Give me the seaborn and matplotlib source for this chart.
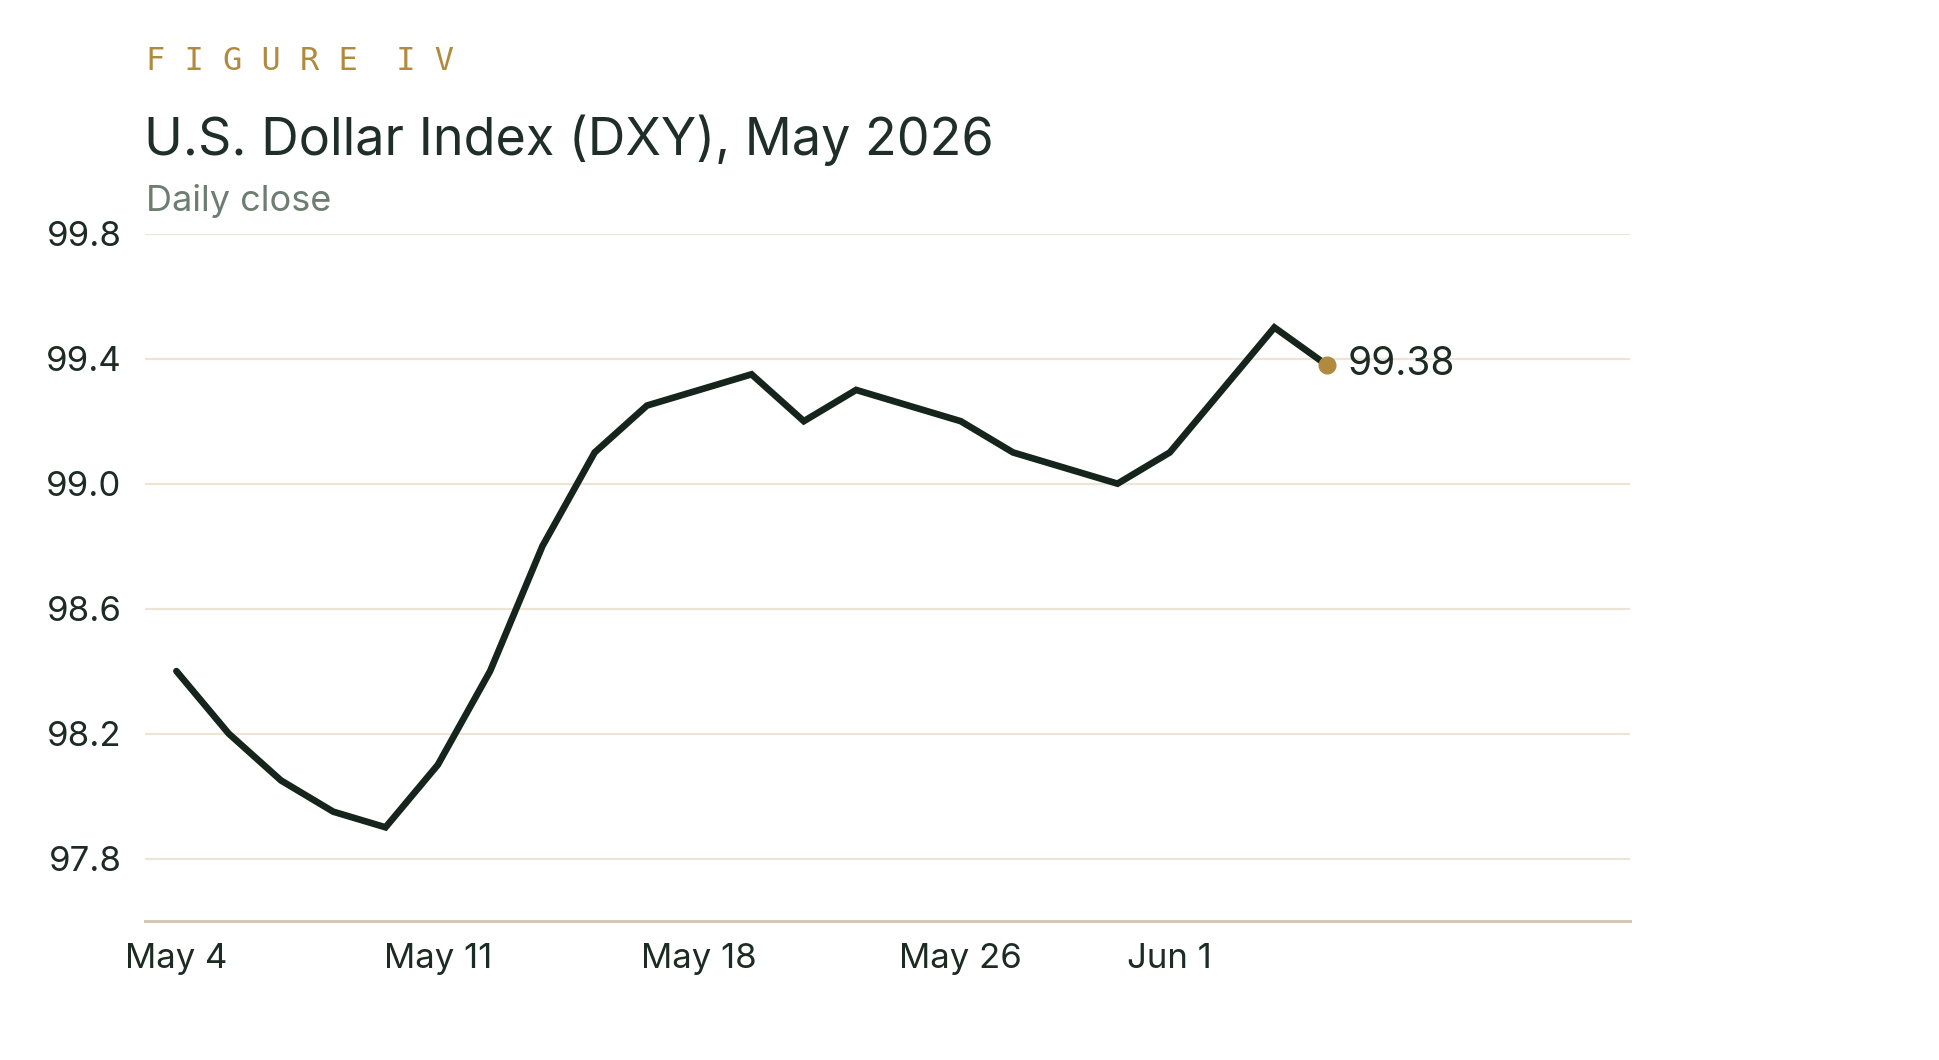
import pandas as pd
import matplotlib.pyplot as plt
import seaborn as sns

# trading days, May 4 - Jun 4 2026 (Memorial Day skipped)
dates = ["May 4", "May 5", "May 6", "May 7", "May 8",
         "May 11", "May 12", "May 13", "May 14", "May 15",
         "May 18", "May 19", "May 20", "May 21", "May 22",
         "May 26", "May 27", "May 28", "May 29",
         "Jun 1", "Jun 2", "Jun 3", "Jun 4"]
dxy_close = [98.40, 98.20, 98.05, 97.95, 97.90,
             98.10, 98.40, 98.80, 99.10, 99.25,
             99.30, 99.35, 99.20, 99.30, 99.25,
             99.20, 99.10, 99.05, 99.00,
             99.10, 99.30, 99.50, 99.38]
tick_labels = ["May 4", "May 11", "May 18", "May 26", "Jun 1"]
y_ticks = [97.8, 98.2, 98.6, 99.0, 99.4, 99.8]

INK = "#1c2b24"
GOLD = "#b08a3e"
GRID = "#ece5d6"

sns.set_theme(style="white")
plt.rcParams['font.family'] = ['Inter', 'DejaVu Sans']

df = pd.DataFrame({"date": dates, "close": dxy_close})
df["idx"] = range(len(df))

fig = plt.figure(figsize=(19.39, 10.60), dpi=100)
ax = fig.add_axes([0.0748, 0.1311, 0.7658, 0.6484])

for y in y_ticks:
    ax.axhline(y, color=GRID, lw=1.6, zorder=0)

sns.lineplot(data=df, x="idx", y="close", ax=ax, color="#15241d", lw=4.8,
             solid_joinstyle="miter", zorder=3)

last = df.iloc[-1]
ax.plot(last["idx"], last["close"], "o", color=GOLD, ms=12, zorder=4)
ax.annotate(f"{last['close']:.2f}", (last["idx"], last["close"]),
            xytext=(15, 0), textcoords="offset points", va="center",
            ha="left", fontsize=28, color=INK)

ax.set_xlim(-0.6, 27.8)
ax.set_ylim(97.6, 99.8)
ax.set_yticks(y_ticks)
ax.set_yticklabels([f"{v:.1f}" for v in y_ticks])
tick_pos = [dates.index(t) for t in tick_labels]
ax.set_xticks(tick_pos)
ax.set_xticklabels(tick_labels)
ax.tick_params(axis="both", length=0, labelsize=25, labelcolor=INK)
ax.tick_params(axis="y", pad=17)
ax.tick_params(axis="x", pad=16)
ax.set_xlabel("")
ax.set_ylabel("")

for s in ["top", "right", "left"]:
    ax.spines[s].set_visible(False)
ax.spines["bottom"].set_color("#d4cab4")
ax.spines["bottom"].set_linewidth(2.2)

fig.text(0.0753, 0.934, "F I G U R E  I V", family="DejaVu Sans Mono",
         fontsize=23, color=GOLD, va="baseline")
fig.text(0.0743, 0.854, "U.S. Dollar Index (DXY), May 2026", fontsize=37.5,
         color="#1f2e28", va="baseline")
fig.text(0.0753, 0.801, "Daily close", fontsize=26, color="#6e7d72",
         va="baseline")

fig.savefig("out.png", dpi=100, facecolor="white")
